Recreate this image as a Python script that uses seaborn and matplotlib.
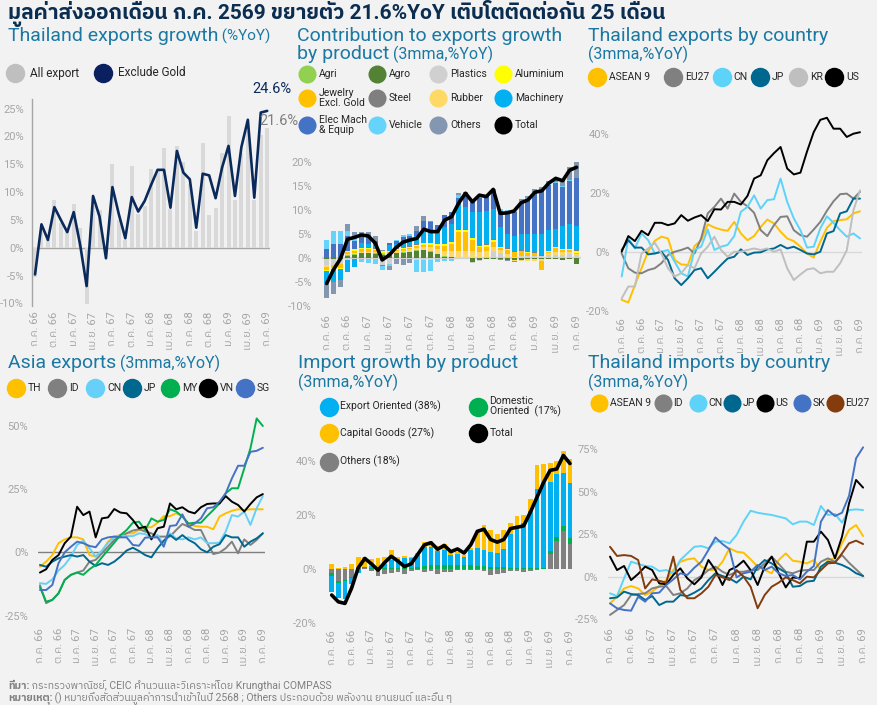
import numpy as np
import pandas as pd
import seaborn as sns
import matplotlib.pyplot as plt
from matplotlib import font_manager
from matplotlib.ft2font import FT2Font


W, H = 877, 705
BG = '#f2f2f2'
NAVY = '#0b2d50'
TEAL = '#1a78a2'
TICK = '#a6a6a6'
TEXT = '#262626'

months = list(range(37))
tick_pos = list(range(0, 37, 3))
tick_labels = ['ก.ค. 66', 'ต.ค. 66', 'ม.ค. 67', 'เม.ย. 67', 'ก.ค. 67', 'ต.ค. 67', 'ม.ค. 68',
               'เม.ย. 68', 'ก.ค. 68', 'ต.ค. 68', 'ม.ค. 69', 'เม.ย. 69', 'ก.ค. 69']

# Thailand exports growth (%YoY)
all_export = [-5.3, 3.0, 1.4, 8.6, 4.5, 3.0, 7.9, 3.6, -10.1, 7.5, 6.8, -0.8, 15.0, 5.0, 1.4, 14.7,
              6.0, 7.5, 14.1, 14.0, 17.9, 7.0, 18.2, 15.4, 11.5, 3.0, 18.8, 5.8, 7.2, 17.0, 23.6,
              8.5, 17.0, 21.0, 8.5, 20.3, 21.6]
exclude_gold = [-4.8, 4.2, 1.4, 7.3, 5.0, 2.8, 6.4, 0.5, -6.9, 9.3, 5.6, -1.9, 10.9, 6.0, 1.7, 9.1,
                6.5, 8.4, 11.3, 14.0, 14.0, 7.2, 17.4, 13.5, 12.3, 3.6, 13.3, 13.0, 8.9, 14.4,
                18.3, 9.3, 18.1, 23.0, 9.0, 24.3, 24.6]

# Contribution to exports growth by product (3mma, %YoY)
agri = [0.0, 0.0, 0.0, 0.2, 0.2] + [0.1] * 32
agro = [-0.3, -0.3, -0.3, 0.5, 0.6, 1.0, 1.0, 0.9, 0.7, 0.9, 1.0, 1.1, 1.2, 1.5, 1.6, 1.3, 0.8,
        0.3, 0.2, 0.0, 0.0, -0.9, -0.4, -0.3, -0.2, -0.2, -0.4, -0.4, -0.4, -0.3, -0.3, -0.3,
        -0.3, -0.2, -0.5, -0.2, -1.2]
plastics = [-1.2, -1.2, -1.0, -0.5, -0.3, -0.2, -0.3, -0.3, -1.4, -1.3, -0.3, -0.3, -0.3, -0.4,
            -0.4, -0.4, -0.3, -0.3, -0.3, -0.3, -0.2, -0.2, -0.2, 0.2, 1.3, 1.0, 0.2, 0.2, 0.3,
            0.3, 0.3, 0.3, 0.5, 0.6, 0.5, 0.8, 0.5]
aluminium = [-0.3, -0.2, -0.2, 0.2, 0.3, 0.2, 0.2, 0.2, 0.3, 0.2, 0.3, 0.2, 0.3, 0.3, 0.3, 0.3,
             0.3, 0.3, 0.3, 0.5, 0.4, 0.3, 0.3, 0.3, 0.3, 0.2, 0.2, 0.1, 0.1, 0.1, 0.1, 0.1, 0.1,
             0.2, 0.1, 0.2, 0.4]
jewelry = [-0.7, -0.5, -0.8, 0.4, 0.5, 0.5, 0.5, 0.4, 0.2, 0.1, 0.2, 0.3, 0.2, 0.4, 0.4, 0.5,
           0.8, 1.2, 1.5, 4.0, 4.0, 2.4, 1.0, 1.0, 1.0, 0.4, 0.8, 0.9, 1.0, 0.7, 0.6, -1.8, 0.3,
           0.8, 0.5, 0.3, 0.2]
steel = [0, 0, 0, 0, 0.1, 0.1, 0.2, 0.6, 0.1, 0.1, 0.1, 0.1, 0.1, 0.1, 0.1, 0.1, 0.1, 0.1, 0.1,
         0.1, 0.1, 0.1, 0.1, 0.2, 0.3, 0.2, 0.1, 0.1, 0.1, 0.1, 0.1, 0.1, 0.1, 0.1, 0.1, 0.1, 0.1]
rubber = [-0.3, 0, 0, 0.2, 0.2, 0.2, 0.2, 0.2, 0.1, 0.1, 0.3, 0.3, 0.6, 0.5, 0.7, 0.9, 0.9, 1.0,
          1.2, 1.3, 1.4, 1.3, 1.1, 1.1, 1.0, 0.5, 0.6, -0.3, -0.3, -0.3, -0.3, -0.4, 0.4, 0.5,
          0.6, 0.4, 0.3]
machinery = [-2.5, -2.8, -2.2, -2.5, -1.5, 1.0, 0.8, 0.3, -0.3, 1.3, 1.0, 1.2, 1.3, 1.6, 2.8, 2.6,
             2.7, 3.5, 3.7, 5.0, 4.6, 5.4, 7.0, 6.8, 6.2, 4.0, 3.1, 3.1, 3.5, 3.7, 3.8, 4.4, 4.3,
             3.8, 4.8, 5.1, 5.0]
elec_mach = [1.9, 3.0, 3.0, 3.0, 1.7, 1.2, 1.3, 0.8, 0.0, 0.3, 0.5, 1.0, 0.8, 1.2, 1.8, 1.6, 1.2,
             2.5, 2.5, 1.6, 2.5, 2.5, 3.0, 3.3, 3.8, 3.3, 4.5, 5.0, 6.5, 7.3, 8.6, 9.0, 9.5, 9.5,
             8.0, 9.1, 10.1]
vehicle = [1.9, 2.6, 2.6, 1.2, 1.0, -0.7, -0.8, -1.0, -0.8, -0.3, 0.2, 0.5, 0.4, -2.5, -2.6, -2.3,
           -0.5, -0.4, -0.3, 0.6, 0.0, 0.0, 0.2, 0.0, 0.0, 0.5, 0.3, 0.3, 0.2, 0.1, 0.1, 0.1,
           0.1, 0.3, 0.2, 0.2, 0.0]
others_x = [-3.0, -2.5, -1.5, 1.3, 0.9, 1.2, 1.2, 1.1, 0.1, -0.9, -1.0, -1.1, -0.8, 1.0, 1.0, 0.4,
            0.0, 0.0, 0.0, 0.3, 0.6, 0.0, 0.0, 0.0, 0.4, -0.3, -0.3, -0.2, 0.5, 0.5, 0.6, 0.6,
            0.7, 0.7, 1.6, 2.6, 3.3]
total_x = [-5.3, -2.4, -0.1, 3.9, 4.3, 4.8, 4.6, 3.1, -0.4, 0.6, 2.2, 3.3, 3.75, 4.1, 6.0, 5.5,
           5.5, 7.9, 8.6, 11.4, 13.5, 11.7, 13.1, 12.8, 14.3, 9.3, 9.4, 9.8, 11.5, 12.1, 13.7,
           14.0, 15.6, 16.6, 16.1, 18.3, 18.9]

# Thailand exports by country (3mma, %YoY)
asean_x = [-16.3, -17.2, -11.3, -5.6, 0.2, 3.7, 5.1, 4.5, -2.8, -4.3, -4.5, 1.9, 3.9, 9.3, 8.2,
           7.5, 7.1, 10.1, 6.2, 3.9, 5.3, 8.4, 10.9, 9.6, 6.8, 4.5, 3.6, 1.7, -0.6, -2.0, 3.4,
           8.1, 10.4, 10.7, 11.0, 13.0, 13.7]
eu_x = [-0.6, -5.6, -7.1, -7.3, -6.2, -5.6, -3.9, -1.1, 0, 0.6, 1.4, -0.6, 4.5, 13.0, 15.2, 18.0,
        14.6, 19.7, 16.9, 15.4, 13.2, 7.3, 5.3, 9.0, 11.8, 12.0, 7.3, 5.6, 5.1, 7.5, 10.1, 13.9,
        17.1, 19.5, 19.7, 18.0, 20.3]
cn_x = [-8.4, 4.5, 1.1, 6.2, 3.9, -0.6, 0, 0.6, -3.4, -7.3, -8.4, 0.6, 1.7, 7.5, 0.6, 1.7, 2.3,
        5.3, 13.5, 15.2, 19.1, 14.6, 17.5, 17.8, 24.8, 16.9, 11.3, 7.3, 1.4, 1.7, 7.9, 12.0, 9.8,
        7.3, 5.1, 6.2, 4.5]
jp_x = [0.6, 3.9, 1.4, 1.4, -0.9, -0.6, 0, -2.8, -9.0, -11.3, -9.0, -6.2, -5.6, -9.0, -6.8, -4.5,
        -2.3, -1.7, 0.8, -1.1, -0.3, -0.2, 0.8, 1.1, 2.3, 1.1, 1.7, 0.6, -0.6, -0.9, 0, 6.2, 7.0,
        13.0, 13.7, 18.0, 18.0]
kr_x = [-15.8, -11.8, -11.8, -0.6, 1.1, 3.0, -0.6, -5.6, -8.4, -7.3, -4.5, -5.6, -0.6, 1.7, 5.1,
        0.6, -1.7, 0, 0, 0.6, 1.1, 0.6, 1.1, 0, 0.8, -5.6, -9.6, -7.7, -6.0, -5.6, -7.3, -6.8,
        -6.8, -3.9, 0.5, 14.0, 20.8]
us_x = [0, 5.3, 3.6, 7.1, 5.6, 9.8, 9.8, 9.0, 9.6, 12.4, 10.5, 11.6, 12.4, 10.4, 14.4, 14.3, 16.9,
        16.9, 16.0, 18.9, 24.8, 25.9, 31.0, 33.4, 35.5, 28.2, 26.2, 26.8, 34.0, 40.5, 44.7, 45.4,
        41.7, 41.7, 38.9, 40.0, 40.5]

# Asia exports (3mma, %YoY)
th_a = [-5.7, -3.7, -1.1, 3.6, 5.1, 5.9, 5.9, 5.1, -1.1, -1.7, 0.3, 4.2, 6.2, 6.8, 7.5, 7.5, 8.8,
        9.9, 9.9, 11.7, 14.3, 14.3, 15.4, 14.3, 11.2, 10.4, 10.1, 10.1, 9.1, 14.1, 15.4, 16.4,
        17.0, 16.7, 17.0, 17.0, 17.0]
id_a = [-13.0, -20.1, -18.8, -16.2, -10.9, -8.9, -8.0, -7.2, -3.7, -3.0, -0.4, 2.2, 4.9, 6.2, 7.5,
        8.6, 9.1, 8.2, 7.5, 6.2, 6.2, 6.2, 8.8, 11.2, 10.1, 8.8, 8.8, 3.8, -0.7, -0.1, 1.6, 4.2,
        -0.4, 5.1, 2.9, 4.9, 7.5]
cn_a = [-12.2, -12.5, -10.7, -7.2, -5.0, -1.7, 2.9, 4.6, 1.6, -1.7, 0.7, 3.8, 5.9, 6.8, 6.4, 6.4,
        7.5, 7.2, 5.9, 6.8, 2.9, 7.5, 5.5, 5.1, 5.9, 5.1, 5.9, 3.6, 3.6, 3.8, 8.2, 14.7, 14.1,
        16.1, 10.8, 17.4, 22.2]
jp_a = [-5.0, -5.7, -3.7, -2.4, -1.7, -1.1, -1.7, -1.1, -3.7, -5.4, -4.3, -5.0, -3.7, -1.7, 0.7,
        1.8, 0.5, -1.1, -2.0, 1.6, 4.6, 6.8, 4.9, 6.8, 4.9, 3.6, 1.2, 0, 2.2, 3.2, 6.8, 5.9, 5.9,
        2.2, 4.2, 5.5, 7.5]
my_a = [-13.8, -19.5, -18.8, -16.2, -10.9, -8.9, -8.0, -8.9, -6.7, -5.0, -2.0, 0.9, 3.8, 6.8,
        8.8, 11.7, 12.1, 8.8, 13.4, 12.1, 12.8, 17.0, 16.1, 14.1, 11.4, 11.7, 11.7, 14.3, 16.7,
        19.3, 23.3, 25.3, 25.3, 33.2, 41.1, 52.9, 49.9]
vn_a = [-8.0, -6.7, -3.0, -1.1, 3.6, 6.2, 18.0, 14.7, 16.1, 5.9, 13.4, 13.8, 17.1, 15.7, 15.4,
        12.8, 9.5, 10.1, 5.1, 9.5, 10.1, 19.3, 17.0, 17.8, 16.1, 15.4, 17.8, 19.1, 19.3, 19.3,
        22.2, 20.0, 18.7, 16.1, 19.1, 21.7, 23.0]
sg_a = [-14.9, -14.9, -12.9, -4.3, 0, 2.2, 4.2, 3.6, 2.5, 2.0, 5.1, 5.9, 6.2, 5.9, 5.9, 2.9, 2.6,
        5.8, 5.9, 5.9, 2.2, 10.4, 10.7, 15.0, 10.1, 11.4, 13.4, 17.4, 17.8, 20.0, 23.3, 29.2,
        34.2, 34.2, 39.7, 40.1, 41.3]

# Import growth by product (3mma, %YoY)
export_oriented = [-6.0, -5.5, -6.5, -2.0, -1.2, 0.3, 1.0, 0.5, 1.5, 3.0, 3.5, 3.8, 3.8, 4.5, 7.0,
                   6.8, 5.5, 5.5, 4.0, 4.0, 3.0, 5.5, 6.5, 6.0, 5.5, 5.0, 6.5, 12.5, 14.5, 16.5,
                   21.0, 29.0, 31.5, 25.5, 23.0, 19.5, 20.5]
domestic_oriented = [-0.8, -0.8, -0.7, -0.3, 0.3, 0.2, 0.3, 0.2, 0.3, 0.4, 0.3, 0.3, 0.3, 0.7,
                     1.2, 1.4, 1.4, 1.5, 1.4, 1.5, 1.5, 1.5, 1.2, 1.2, 1.0, 1.0, 1.0, 0.6, 0.6,
                     0.6, 0.5, 0.5, 0.5, 1.2, 1.5, 2.0, 2.0]
capital_goods = [1.8, 0.4, 1.0, 1.8, 4.0, 3.6, 2.5, 3.5, 2.8, 3.8, 0.6, 0.7, 0.4, 0.9, 2.0, 2.4,
                 1.6, 2.4, 1.7, 0.7, 0.6, 0.8, 6.0, 9.0, 8.0, 7.0, 7.0, 4.0, 4.5, 3.0, 4.5, 9.0,
                 7.0, 7.0, 5.0, 8.0, 8.5]
others_m = [-1.5, -4.2, -3.8, -3.0, 0.3, 0.5, -0.6, -2.5, -1.6, -1.2, -1.0, -1.8, -0.6, -0.4, -0.9,
            -0.5, -1.7, -0.9, -1.0, -0.2, -0.2, -0.3, -0.3, -0.5, -2.0, -1.8, -1.3, -0.5, -0.8,
            -1.0, -0.5, -0.3, 0.0, 5.5, 10.5, 14.0, 9.5]
total_m = [-9.5, -12.0, -12.6, -7.0, 0.5, 4.0, 2.0, -0.3, 2.5, 4.8, 3.0, 1.0, 2.0, 5.5, 9.0, 9.8,
           7.4, 8.8, 6.5, 7.5, 6.0, 9.0, 14.0, 14.8, 11.0, 10.0, 11.0, 15.0, 15.5, 16.0, 21.0,
           26.5, 32.0, 36.5, 37.0, 42.0, 39.0]

# Thailand imports by country (3mma, %YoY)
asean_m = [-15.7, -11.8, -6.9, -5.5, -6.9, -10.8, -8.8, -5.5, -2.0, 3.9, 8.8, 10.2, 10.8, 5.9,
           3.9, 3.9, 8.8, 16.7, 14.7, 14.1, 10.2, 5.9, 3.9, 2.0, 9.8, 13.7, 9.4, 8.8, 7.8, 9.8,
           3.9, 9.8, 10.8, 19.6, 27.5, 30.4, 23.9]
id_m = [-22.5, -19.6, -16.7, -10.8, -10.2, -9.8, -6.9, -5.9, -5.5, -10.8, -9.8, -6.9, -2.0, 0.4,
        3.9, 5.9, 2.9, 1.0, 2.9, 2.9, 3.9, 3.9, 7.8, 11.8, 7.5, 2.9, 2.0, 3.5, 3.9, 3.9, 8.8,
        10.8, 8.8, 12.7, 8.2, 4.3, 0.4]
cn_m = [-9.8, -11.4, -1.0, 8.8, 7.5, 6.3, 5.9, 3.3, 3.9, 2.0, 9.8, 13.7, 17.6, 18.0, 16.7, 20.6,
        21.0, 19.6, 24.5, 32.4, 38.8, 37.6, 36.9, 36.3, 35.3, 34.3, 30.8, 32.4, 32.4, 30.4, 41.6,
        36.3, 36.9, 31.8, 39.2, 39.6, 39.2]
jp_m = [-12.7, -12.2, -8.8, -10.2, -10.8, -13.7, -11.4, -16.7, -14.7, -14.7, -10.8, -11.4, -9.4,
        -6.9, -2.0, 2.0, 0.4, -1.0, -3.5, 0, -1.6, 5.9, 9.8, 7.8, 4.9, 2.4, -5.9, -5.5, -2.9,
        -2.4, 5.9, 8.8, 8.2, 6.9, 4.9, 2.0, 0.4]
us_m = [11.8, 3.9, 6.3, -2.0, 1.6, 5.9, 3.9, -3.9, -4.5, 1.0, 4.9, -1.0, -4.5, -0.4, 9.8, 3.9,
        -4.9, 3.9, 5.9, 9.4, 3.9, -4.9, 5.9, 11.8, 2.0, -6.3, -0.4, -1.0, 20.6, 20.6, 26.5, 21.6,
        10.8, 23.5, 43.1, 56.9, 52.4]
sk_m = [-15.7, -18.6, -19.6, -20.0, -11.8, -14.7, -9.8, -9.4, -4.9, -1.6, 2.0, 1.0, 5.3, 8.8,
        15.7, 23.1, 19.2, 16.1, -0.4, 2.0, 2.9, 6.9, 3.9, 5.9, 2.0, 0.4, 1.0, -1.6, 2.9, 6.3,
        32.4, 39.2, 35.7, 37.6, 47.5, 69.6, 76.1]
eu_m = [17.6, 12.2, 12.7, 12.2, 9.8, -6.9, -1.6, -2.4, -3.5, 11.8, -7.8, -12.7, -12.7, -9.8, -5.9,
        1.0, -0.4, -2.0, 3.9, 0, -5.9, -18.6, -10.8, -5.9, -3.5, -0.4, -2.0, -3.9, 0, -0.4, 3.9,
        7.8, 8.2, 13.7, 19.6, 21.2, 19.2]


def thai_family():
    # first installed font that has Thai glyphs
    fonts = sorted(font_manager.fontManager.ttflist, key=lambda f: 'Thai' not in f.name)
    for f in fonts:
        try:
            if 0x0E01 in FT2Font(f.fname).get_charmap():
                return f.name
        except Exception:
            continue
    return None


def add_panel(fig, left, top, right, bottom):
    ax = fig.add_axes([left / W, 1 - bottom / H, (right - left) / W, (bottom - top) / H])
    ax.set_facecolor('none')
    return ax


def finish(ax, xlim, ylim, yticks, zero=None, ypad=7):
    ax.set_xlim(xlim)
    ax.set_ylim(ylim)
    ax.set_yticks(yticks)
    ax.set_yticklabels([f'{t}%' for t in yticks])
    ax.set_xticks(tick_pos)
    ax.set_xticklabels(tick_labels, rotation=90)
    ax.tick_params(length=0, labelsize=8, colors=TICK)
    ax.tick_params(axis='y', pad=ypad)
    ax.tick_params(axis='x', pad=4)
    ax.set_xlabel('')
    ax.set_ylabel('')
    ax.grid(False)
    sns.despine(ax=ax, left=True, bottom=True)
    if zero:
        ax.axhline(0, color=zero, lw=1, zorder=0)


def draw_lines(ax, series, palette, lw=1.4):
    df = pd.DataFrame(series)
    df['month'] = months
    df = df.melt(id_vars='month', var_name='name', value_name='value')
    sns.lineplot(data=df, x='month', y='value', hue='name', hue_order=list(series),
                 palette=palette, linewidth=lw, legend=False, ax=ax)


def stacked_bars(ax, series, colors, width):
    pos = np.zeros(len(months))
    neg = np.zeros(len(months))
    for name, vals in series.items():
        v = np.array(vals, dtype=float)
        base = np.where(v >= 0, pos, neg)
        ax.bar(months, v, bottom=base, width=width, color=colors[name], linewidth=0)
        pos += np.clip(v, 0, None)
        neg += np.clip(v, None, 0)


def put_parts(ov, x, y, parts, renderer):
    for s, size, weight, color in parts:
        t = ov.text(x, y, s, fontsize=size, fontweight=weight, color=color,
                    ha='left', va='baseline')
        x += t.get_window_extent(renderer).width


def legend_items(ov, xs, ys, labels, colors, dx=12, ms=14, fs=8):
    for x, y, lab, c in zip(xs, ys, labels, colors):
        ov.plot([x], [y], 'o', ms=ms, color=c, mec='none', zorder=2)
        ov.text(x + dx, y, lab, fontsize=fs, color=TEXT, ha='left', va='center',
                linespacing=0.95, zorder=3)


sns.set_theme(style='white', rc={'axes.facecolor': BG, 'figure.facecolor': BG})
thai = thai_family()
plt.rcParams['font.family'] = [f for f in ['Roboto', thai, 'DejaVu Sans'] if f]
plt.rcParams['axes.unicode_minus'] = False

fig = plt.figure(figsize=(W / 100, H / 100), dpi=100)
fig.patch.set_facecolor(BG)

# --- 1. Thailand exports growth
ax1 = add_panel(fig, 31.8, 99.2, 270.1, 306.1)
ax1.bar(months, all_export, width=0.62, color='#d9d9d9', linewidth=0)
sns.lineplot(x=months, y=exclude_gold, color='#0b2a5c', linewidth=1.9, ax=ax1)
finish(ax1, (-0.5, 36.45), (-10.5, 26.7), [-10, -5, 0, 5, 10, 15, 20, 25], zero='#a6a6a6',
       ypad=5.5)
ax1.spines['left'].set_visible(True)
ax1.spines['left'].set_color('#a6a6a6')
ax1.spines['left'].set_linewidth(1)
ax1.annotate(f'{exclude_gold[-1]}%', xy=(36, exclude_gold[-1]), xytext=(3.5, 15.5),
             textcoords='offset points', ha='center', va='center', fontsize=10.5, color='#0b2a5c')
ax1.annotate(f'{all_export[-1]}%', xy=(36, all_export[-1]), xytext=(8.5, 4.5),
             textcoords='offset points', ha='center', va='center', fontsize=10.5, color='#7f7f7f')

# --- 2. Contribution to exports growth by product
prod_colors = {'Agri': '#92d050', 'Agro': '#548235', 'Plastics': '#d0d0d0',
               'Aluminium': '#ffff00', 'Jewelry\nExcl. Gold': '#ffc000', 'Steel': '#7f7f7f',
               'Rubber': '#ffd966', 'Machinery': '#00b0f0', 'Elec Mach\n& Equip': '#4472c4',
               'Vehicle': '#66d4fa', 'Others': '#8497b0', 'Total': '#000000'}
ax2 = add_panel(fig, 321.8, 154.8, 581.4, 309.4)
ax2.axhline(0, color='#d6d6d6', lw=1.6, zorder=0)
stacked_bars(ax2, {'Agro': agro, 'Agri': agri, 'Plastics': plastics, 'Rubber': rubber,
                   'Jewelry\nExcl. Gold': jewelry, 'Aluminium': aluminium, 'Steel': steel,
                   'Machinery': machinery, 'Elec Mach\n& Equip': elec_mach, 'Vehicle': vehicle,
                   'Others': others_x}, prod_colors, 0.72)
sns.lineplot(x=months, y=total_x, color='black', linewidth=2.6, ax=ax2)
finish(ax2, (-0.7, 36.7), (-10.7, 21.5), [-10, -5, 0, 5, 10, 15, 20])

# --- 3. Thailand exports by country
exp_country = {'ASEAN 9': asean_x, 'EU27': eu_x, 'CN': cn_x, 'JP': jp_x, 'KR': kr_x, 'US': us_x}
exp_colors = {'ASEAN 9': '#ffc000', 'EU27': '#808080', 'CN': '#5dd3f9', 'JP': '#00688f',
              'KR': '#bfbfbf', 'US': '#000000'}
ax3 = add_panel(fig, 619.7, 110.1, 862.0, 312.5)
draw_lines(ax3, exp_country, exp_colors)
finish(ax3, (-0.3, 36.3), (-20.6, 48), [-20, 0, 20, 40], zero='#d9d9d9')

# --- 4. Asia exports
asia = {'TH': th_a, 'ID': id_a, 'CN': cn_a, 'JP': jp_a, 'MY': my_a, 'VN': vn_a, 'SG': sg_a}
asia_colors = {'TH': '#ffc000', 'ID': '#808080', 'CN': '#66d0f8', 'JP': '#00688f',
               'MY': '#00b050', 'VN': '#000000', 'SG': '#4472c4'}
ax4 = add_panel(fig, 38.1, 413.1, 264.7, 622.4)
draw_lines(ax4, asia, asia_colors)
finish(ax4, (-0.3, 36.3), (-27.7, 55), [-25, 0, 25, 50], zero='#7f7f7f')

# --- 5. Import growth by product
imp_colors = {'Export Oriented (38%)': '#00b0f0', 'Domestic\nOriented  (17%)': '#00b050',
              'Capital Goods (27%)': '#ffc000', 'Others (18%)': '#808080', 'Total': '#000000'}
ax5 = add_panel(fig, 326.4, 447.3, 575.3, 624.3)
stacked_bars(ax5, {'Others (18%)': others_m, 'Domestic\nOriented  (17%)': domestic_oriented,
                   'Export Oriented (38%)': export_oriented,
                   'Capital Goods (27%)': capital_goods}, imp_colors, 0.72)
sns.lineplot(x=months, y=total_m, color='black', linewidth=2.6, ax=ax5)
finish(ax5, (-0.8, 36.8), (-20.3, 45), [-20, 0, 20, 40])

# --- 6. Thailand imports by country
imp_country = {'ASEAN 9': asean_m, 'ID': id_m, 'CN': cn_m, 'JP': jp_m, 'US': us_m, 'SK': sk_m,
               'EU27': eu_m}
imp_c_colors = {'ASEAN 9': '#ffc000', 'ID': '#808080', 'CN': '#5dd3f9', 'JP': '#00688f',
                'US': '#000000', 'SK': '#4472c4', 'EU27': '#843c0c'}
ax6 = add_panel(fig, 607.9, 440.7, 865.2, 622.4)
draw_lines(ax6, imp_country, imp_c_colors)
finish(ax6, (-0.3, 36.3), (-26.9, 80), [-25, 0, 25, 50, 75], zero='#d9d9d9')

# --- titles, legends, footer on a pixel overlay
ov = fig.add_axes([0, 0, 1, 1])
ov.set_xlim(0, W)
ov.set_ylim(H, 0)
ov.axis('off')
ov.patch.set_alpha(0)
r = fig.canvas.get_renderer()

put_parts(ov, 8, 19, [('มูลค่าส่งออกเดือน ก.ค. 2569 ขยายตัว 21.6%YoY เติบโตติดต่อกัน 25 เดือน',
                       15, 'bold', NAVY)], r)
put_parts(ov, 8, 41, [('Thailand exports growth', 14, 'normal', TEAL),
                      (' (%YoY)', 11, 'normal', TEAL)], r)
put_parts(ov, 297, 41, [('Contribution to exports growth', 14, 'normal', TEAL)], r)
put_parts(ov, 297, 59, [('by product', 14, 'normal', TEAL),
                        (' (3mma,%YoY)', 11.5, 'normal', TEAL)], r)
put_parts(ov, 588, 41, [('Thailand exports by country', 14, 'normal', TEAL)], r)
put_parts(ov, 588, 59, [('(3mma,%YoY)', 11.5, 'normal', TEAL)], r)
put_parts(ov, 8, 368, [('Asia exports', 14, 'normal', TEAL),
                       (' (3mma,%YoY)', 11.5, 'normal', TEAL)], r)
put_parts(ov, 298, 368, [('Import growth by product', 14, 'normal', TEAL)], r)
put_parts(ov, 298, 387, [('(3mma,%YoY)', 11.5, 'normal', TEAL)], r)
put_parts(ov, 588, 368, [('Thailand imports by country', 14, 'normal', TEAL)], r)
put_parts(ov, 588, 387, [('(3mma,%YoY)', 11.5, 'normal', TEAL)], r)

legend_items(ov, [15, 103], [73, 73], ['All export', 'Exclude Gold'],
             ['#bfbfbf', '#0b2060'], dx=15, fs=8.5)

prod_order = ['Agri', 'Agro', 'Plastics', 'Aluminium', 'Jewelry\nExcl. Gold', 'Steel', 'Rubber',
              'Machinery', 'Elec Mach\n& Equip', 'Vehicle', 'Others', 'Total']
col_x = [306.7, 377, 438, 503]
row_y = [74.3, 98.3, 125]
legend_items(ov, [col_x[i % 4] for i in range(12)], [row_y[i // 4] for i in range(12)],
             prod_order, [prod_colors[k] for k in prod_order], dx=12, ms=13, fs=7.5)

legend_items(ov, [596.7, 672.7, 721.7, 760, 798, 834], [77.3] * 6, list(exp_country),
             list(exp_colors.values()), dx=12, fs=7.5)
legend_items(ov, [16, 57, 95, 132, 170, 208, 245], [388] * 7, list(asia),
             list(asia_colors.values()), dx=12, fs=7.5)
imp_order = ['Export Oriented (38%)', 'Capital Goods (27%)', 'Others (18%)',
             'Domestic\nOriented  (17%)', 'Total']
legend_items(ov, [329, 329, 329, 478, 478], [406.7, 433, 461.7, 406.7, 433], imp_order,
             [imp_colors[k] for k in imp_order], dx=11.5, fs=7.5)
legend_items(ov, [599.3, 662.7, 698.3, 731.7, 765, 801.7, 835], [403.3] * 7, list(imp_country),
             list(imp_c_colors.values()), dx=10.5, ms=13, fs=7.5)

put_parts(ov, 8, 689, [('ที่มา:', 7.5, 'bold', '#7f7f7f'),
                       (' กระทรวงพาณิชย์, CEIC คำนวนและวิเคราะห์โดย Krungthai COMPASS',
                        7.5, 'normal', '#7f7f7f')], r)
put_parts(ov, 8, 700, [('หมายเหตุ:', 7.5, 'bold', '#7f7f7f'),
                       (' () หมายถึงสัดส่วนมูลค่าการนำเข้าในปี 2568 ; Others ประกอบด้วย '
                        'พลังงาน ยานยนต์ และอื่น ๆ', 7.5, 'normal', '#7f7f7f')], r)

fig.savefig('out.png', dpi=100, facecolor=BG)
